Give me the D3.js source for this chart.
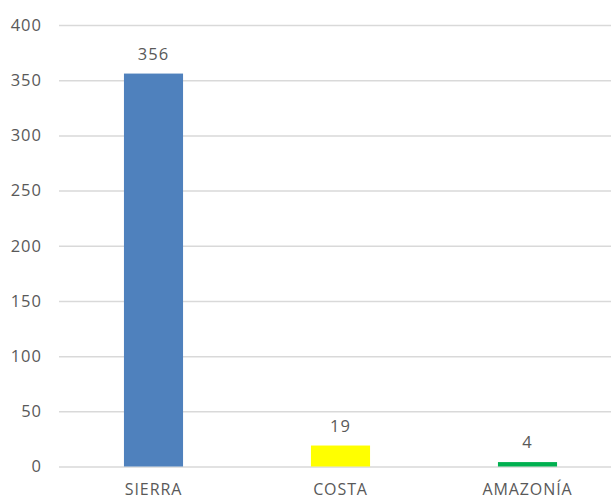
<!DOCTYPE html>
<html><head><meta charset="utf-8">
<script src="https://cdn.jsdelivr.net/npm/d3@7"></script>
<style>body{margin:0;background:#fff}svg{display:block}text{font-family:"Open Sans",sans-serif;fill:#595959}</style>
</head><body><svg id="c" width="611" height="501"></svg>
<script>
const categories = ["SIERRA", "COSTA", "AMAZONÍA"];
const values = [356, 19, 4];
const colors = ["#4F81BD", "#FFFF00", "#00B050"];
const yTicks = [0, 50, 100, 150, 200, 250, 300, 350, 400];

const svg = d3.select("#c");
const x = d3.scaleBand().domain(categories).range([60, 621]).paddingInner(0.684).paddingOuter(0.342);
const y = d3.scaleLinear().domain([0, 400]).range([466.5, 25]);

const yAxis = d3.axisLeft(y).tickValues(yTicks).tickSize(-(611 - 59)).tickPadding(17);
const gy = svg.append("g").attr("transform", "translate(59,0)").call(yAxis);
gy.select(".domain").remove();
gy.selectAll(".tick line").attr("stroke", "#d9d9d9").attr("stroke-width", 1.5);
gy.selectAll(".tick text").attr("font-size", "16.5px").attr("letter-spacing", "1px").attr("fill", "#595959").attr("font-family", "Open Sans");

svg.append("g").selectAll("text").data(values).join("text")
  .attr("x", (d, i) => x(categories[i]) + x.bandwidth() / 2)
  .attr("y", d => y(d) - 14)
  .attr("text-anchor", "middle")
  .attr("font-size", "16.5px").attr("letter-spacing", "1px")
  .text(d => d);

svg.append("g").selectAll("rect").data(values).join("rect")
  .attr("x", (d, i) => x(categories[i]))
  .attr("width", x.bandwidth())
  .attr("y", d => y(d))
  .attr("height", d => y(0) - y(d))
  .attr("fill", (d, i) => colors[i]);

const xAxis = d3.axisBottom(x).tickSize(0).tickPadding(17);
const gx = svg.append("g").attr("transform", "translate(0,466.5)").call(xAxis);
gx.select(".domain").remove();
gx.selectAll(".tick text").attr("font-size", "16px").attr("letter-spacing", "0.9px").attr("fill", "#595959").attr("font-family", "Open Sans");
</script></body></html>
